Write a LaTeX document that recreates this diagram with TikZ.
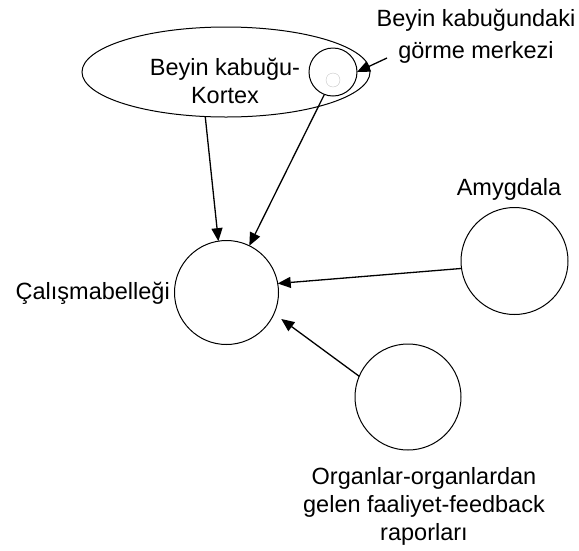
\documentclass[tikz,border=0pt]{standalone}
\usepackage{fontspec}
\setmainfont{Liberation Sans}
\usetikzlibrary{shapes.geometric, arrows.meta, positioning}

\begin{document}
\begin{tikzpicture}[x=1pt, y=-1pt, >={Triangle[length=13pt, width=11pt]},
    area/.style={circle, draw, line width=1pt, minimum size=104pt, inner sep=0pt, outer sep=0pt},
    lbl/.style={font=\fontsize{23.5}{28}\selectfont, align=center, inner sep=0pt}]
    \useasboundingbox (0,0) rectangle (579,550);
    \node[ellipse, draw, line width=1pt, minimum width=288pt, minimum height=90pt, inner sep=0pt, outer sep=0pt] (kortex) at (226,72) {};
    \node[lbl] (kortexlbl) at (225,80.6) {Beyin kabuğu-\\Kortex};
    \node[area, minimum size=48pt] (gm) at (333,72) {};
    \node[circle, draw=gray!45, fill=white, minimum size=14pt, inner sep=0pt] (gmcore) at (333,80) {};
    \node[lbl, font=\fontsize{23.5}{32}\selectfont] (gmlbl) at (476,36) {Beyin kabuğundaki\\görme merkezi};
    \coordinate (gmtail) at (387,58);
    \node[area] (wm) at (226.5,292.5) {};
    \node[lbl, anchor=base east] (wmlbl) at (170,299) {Çalışmabelleği};
    \node[area, minimum size=107pt] (amyg) at (514.5,261) {};
    \node[lbl, anchor=base] (amyglbl) at (509,195) {Amygdala};
    \node[area, minimum size=106pt] (organ) at (408,397) {};
    \node[lbl] (organlbl) at (424,506) {Organlar-organlardan\\gelen faaliyet-feedback\\raporları};

    \path[->, line width=1.3pt]
    (gmtail) edge (gm.east)
    (kortex.245) edge (wm.99)
    (gm.249) edge (wm.64)
    (amyg.188) edge (wm.10)
    (organ.157) edge[shorten >=9pt] (wm.336);
\end{tikzpicture}
\end{document}
